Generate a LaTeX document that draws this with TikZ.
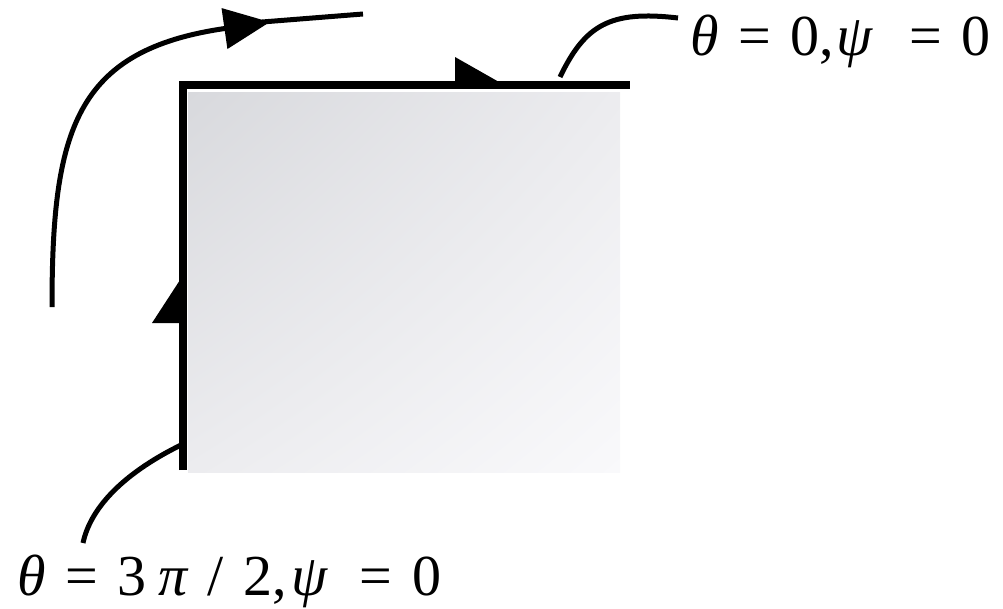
\documentclass[tikz,border=0pt]{standalone}
\usepackage{fontspec}
\setmainfont{Liberation Serif}
\usetikzlibrary{arrows.meta,shadings}

\definecolor{platedark}{RGB}{216,217,221}
\definecolor{platemid}{RGB}{236,236,239}
\definecolor{platelight}{RGB}{249,249,251}
\newcommand\eqfont{\fontsize{58}{70}\selectfont\spaceskip 0.34em\relax}

\begin{document}
\begin{tikzpicture}[x=1pt, y=-1pt,
  rim/.style={line width=7.5pt},
  leader/.style={line width=5pt},
  eqlabel/.style={inner sep=0pt, font=\eqfont}]
\useasboundingbox (0,0) rectangle (1003,608);
% plate with shading
\shade[upper left=platedark, upper right=platemid, lower left=platemid, lower right=platelight]
  (188,92) rectangle (620,472);
% boundary of the plate
\draw[rim] (183,470) -- (183,85) -- (630,85);
\fill (455,82) -- (455,57) -- (499,82) -- cycle;
\fill (180,280) -- (152,323) -- (180,323) -- cycle;
% labels
\node[eqlabel, anchor=base west] (zerolabel) at (690,55)
  {{\itshape θ} = 0,\kern0.03em{\itshape ψ}\kern0.3em{} = 0};
\node[eqlabel, anchor=base west] (halflabel) at (17,595)
  {{\itshape θ} = 3\kern0.2em{\itshape π} / 2,\kern0.08em{\itshape ψ}\kern0.22em{} = 0};
\coordinate (zerotick) at (560,77);
\coordinate (zeroend) at (678,18);
\coordinate (halftick) at (181,445);
\coordinate (halfend) at (83,543);
\draw[leader] (zerotick) .. controls (585,25) and (610,10) .. (zeroend);
\draw[leader] (halftick) .. controls (120,475) and (90,510) .. (halfend);
% direction of travel
\coordinate (turnstart) at (52,307);
\coordinate (turntip) at (270,22);
\coordinate (turnend) at (363,14);
\draw[leader, -{Triangle[length=46pt, width=40pt]}] (turnstart) .. controls (52,130) and (75,50) .. (turntip);
\draw[leader] (262,22) -- (turnend);
\end{tikzpicture}
\end{document}
